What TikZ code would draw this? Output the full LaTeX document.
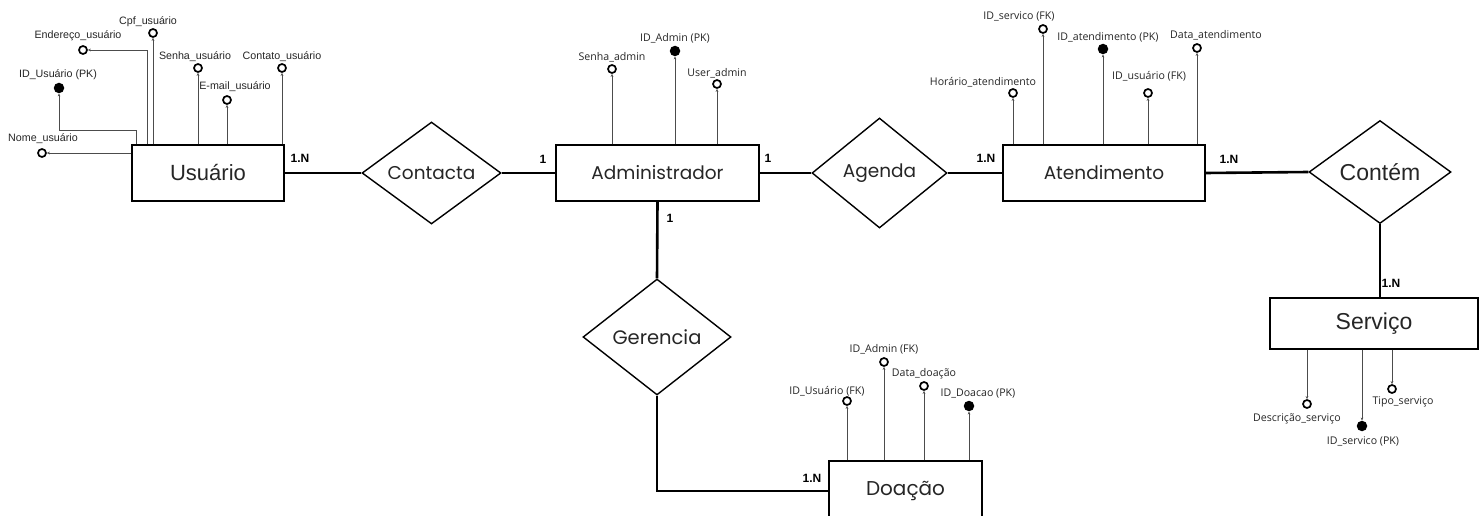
\documentclass[tikz,border=0pt]{standalone}
\usepackage{fontspec}
\setmainfont{Open Sans}
\newfontfamily\entfont{Poppins}
\newfontfamily\arialfont{Liberation Sans}
\usetikzlibrary{shapes.geometric,arrows.meta}
\begin{document}
\begin{tikzpicture}[x=1pt,y=-1pt,
  entity/.style={draw=black,line width=1.4pt,rectangle,inner sep=0pt,font=\entfont\fontsize{18.5}{20}\selectfont,text=black!85},
  relbox/.style={draw=black,line width=1.4pt,diamond,inner sep=0pt,font=\entfont\fontsize{18.5}{20}\selectfont,text=black!85},
  rel/.style={line width=2.6pt,black},
  attr/.style={line width=0.8pt,black!70,-{Stealth[length=3pt,width=2.6pt]}},
  oc/.style={circle,draw=black,line width=1.7pt,fill=white,minimum size=8pt,inner sep=0pt},
  fc/.style={circle,fill=black,minimum size=10.5pt,inner sep=0pt},
  lab/.style={font=\fontsize{10.6}{12}\selectfont,text=black!85,inner sep=0pt},
  alab/.style={font=\arialfont\fontsize{10.7}{12}\selectfont,text=black!85,inner sep=0pt},
  card/.style={font=\arialfont\bfseries\fontsize{12}{13}\selectfont,inner sep=0pt}]
\clip (0,0) rectangle (1481,516);
\fill[white] (0,0) rectangle (1481,516);

% entities
\node[entity,minimum width=152pt,minimum height=56pt,font=\arialfont\fontsize{22}{24}\selectfont] (usu) at (208,173) {Usuário};
\node[entity,minimum width=203pt,minimum height=56pt] (adm) at (657.5,173) {Administrador};
\node[entity,minimum width=202pt,minimum height=56pt] (ate) at (1104,173) {Atendimento};
\node[entity,minimum width=208pt,minimum height=51pt,font=\arialfont\fontsize{23}{25}\selectfont] (serv) at (1374,323.5) {Serviço};
\node[entity,minimum width=153pt,minimum height=60pt,font=\entfont\fontsize{20}{22}\selectfont] (doa) at (905.5,491) {Doação};

% relationships
\node[relbox,minimum width=139pt,minimum height=102pt] (con) at (431.5,173) {Contacta};
\node[relbox,minimum width=135pt,minimum height=110pt] (age) at (879.5,173) {Agenda};
\node[relbox,minimum width=142pt,minimum height=103pt,font=\arialfont\fontsize{23}{25}\selectfont] (cnt) at (1380,172) {Contém};
\node[relbox,minimum width=148pt,minimum height=116pt,font=\entfont\fontsize{19.5}{21}\selectfont] (ger) at (657,337) {Gerencia};

% relationship connectors
\draw[rel] (usu.east) -- (con.west);
\draw[rel] (con.east) -- (adm.west);
\draw[rel] (adm.east) -- (age.west);
\draw[rel] (age.east) -- (ate.west);
\draw[rel] (ate.east) -- (cnt.west);
\draw[rel] (cnt.south) -- (cnt.south |- serv.north);
\draw[rel] (adm.south) -- (ger.north);
\draw[rel] (ger.south) |- (doa.west);

% cardinalities
\node[card] (c1) at (300,158) {1.N};
\node[card] (c2) at (543,159) {1};
\node[card] (c3) at (768,158) {1};
\node[card] (c4) at (986,158) {1.N};
\node[card] (c5) at (1229,159) {1.N};
\node[card] (c6) at (1391,283) {1.N};
\node[card] (c7) at (670,218) {1};
\node[card] (c8) at (812,478) {1.N};

% Usuario attributes
\node[oc] (cpf) at (153,33) {};
\node[alab] (cpfl) at (148,22) {Cpf\_usuário};
\draw[attr] (cpf |- usu.north) -- (cpf.south);

\node[oc] (end) at (83,50) {};
\node[alab] (endl) at (78,36) {Endereço\_usuário};
\coordinate (e1) at (147,60);
\draw[attr] (e1 |- usu.north) |- (end.east);

\node[fc] (idu) at (59,88) {};
\node[alab] (idul) at (58,75) {ID\_Usuário (PK)};
\coordinate (k1) at (136,130);
\draw[attr] (k1 |- usu.north) -- (k1) -| (idu.south);

\node[oc] (nom) at (42,153) {};
\node[alab] (noml) at (43,139) {Nome\_usuário};
\draw[attr] (usu.west |- nom) -- (nom.east);

\node[oc] (sen) at (198,68) {};
\node[alab] (senl) at (195,57) {Senha\_usuário};
\draw[attr] (sen |- usu.north) -- (sen.south);

\node[oc] (ema) at (227,100) {};
\node[alab] (emal) at (235,87) {E-mail\_usuário};
\draw[attr] (ema |- usu.north) -- (ema.south);

\node[oc] (cto) at (282,68) {};
\node[alab] (ctol) at (282,57) {Contato\_usuário};
\draw[attr] (cto |- usu.north) -- (cto.south);

% Administrador attributes
\node[oc] (sad) at (612,69) {};
\node[lab] (sadl) at (612,57) {Senha\_admin};
\draw[attr] (sad |- adm.north) -- (sad.south);

\node[fc] (iad) at (675,51) {};
\node[lab] (iadl) at (675,38) {ID\_Admin (PK)};
\draw[attr] (iad |- adm.north) -- (iad.south);

\node[oc] (uad) at (717,84) {};
\node[lab] (uadl) at (717,73) {User\_admin};
\draw[attr] (uad |- adm.north) -- (uad.south);

% Atendimento attributes
\node[oc] (hor) at (1013,93) {};
\node[lab] (horl) at (983,82) {Horário\_atendimento};
\draw[attr] (hor |- ate.north) -- (hor.south);

\node[oc] (isf) at (1043,29) {};
\node[lab] (isfl) at (1019,16) {ID\_servico (FK)};
\draw[attr] (isf |- ate.north) -- (isf.south);

\node[fc] (iat) at (1103,49) {};
\node[lab] (iatl) at (1108,37) {ID\_atendimento (PK)};
\draw[attr] (iat |- ate.north) -- (iat.south);

\node[oc] (iuf) at (1148,93) {};
\node[lab] (iufl) at (1149,76) {ID\_usuário (FK)};
\draw[attr] (iuf |- ate.north) -- (iuf.south);

\node[oc] (dat) at (1197,48) {};
\node[lab] (datl) at (1216,35) {Data\_atendimento};
\draw[attr] (dat |- ate.north) -- (dat.south);

% Doacao attributes
\node[oc] (duf) at (847,401) {};
\node[lab] (dufl) at (827,391) {ID\_Usuário (FK)};
\draw[attr] (duf |- doa.north) -- (duf.south);

\node[oc] (daf) at (884,362) {};
\node[lab] (dafl) at (884,349) {ID\_Admin (FK)};
\draw[attr] (daf |- doa.north) -- (daf.south);

\node[oc] (ddt) at (924,386) {};
\node[lab] (ddtl) at (924,374) {Data\_doação};
\draw[attr] (ddt |- doa.north) -- (ddt.south);

\node[fc] (did) at (969,406) {};
\node[lab] (didl) at (978,394) {ID\_Doacao (PK)};
\draw[attr] (did |- doa.north) -- (did.south);

% Servico attributes
\node[oc] (sde) at (1307,404) {};
\node[lab] (sdel) at (1297,419) {Descrição\_serviço};
\draw[attr] (sde |- serv.south) -- (sde.north);

\node[fc] (sid) at (1362,426) {};
\node[lab] (sidl) at (1363,441) {ID\_servico (PK)};
\draw[attr] (sid |- serv.south) -- (sid.north);

\node[oc] (sti) at (1392,389) {};
\node[lab] (stil) at (1403,402) {Tipo\_serviço};
\draw[attr] (sti |- serv.south) -- (sti.north);
\end{tikzpicture}
\end{document}
